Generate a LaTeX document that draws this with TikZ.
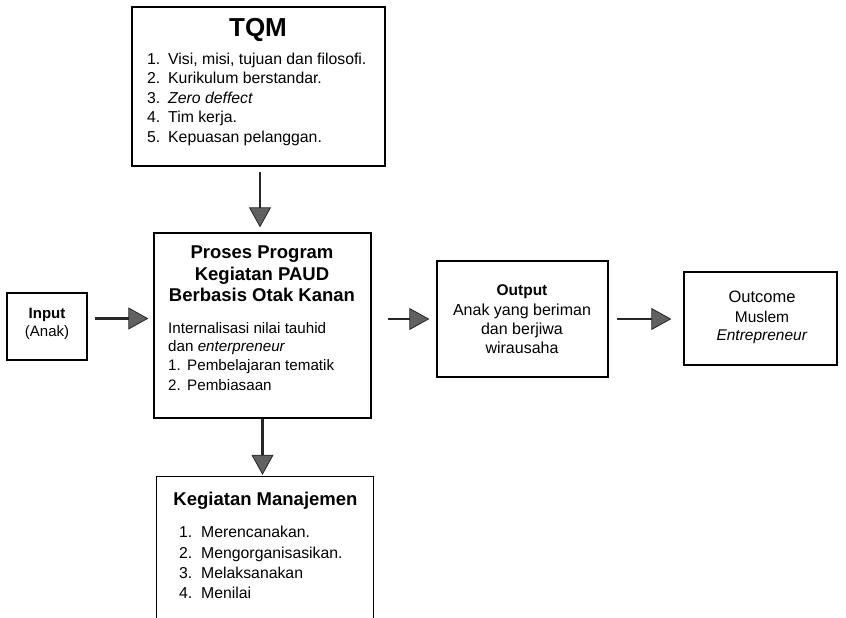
\documentclass[tikz,border=0pt]{standalone}
\usepackage{fontspec}
\setmainfont{Liberation Sans}
\usetikzlibrary{arrows.meta}
\begin{document}
\begin{tikzpicture}[x=1pt,y=-1pt,
  box/.style={draw=black, line width=1.3pt, inner sep=0pt, minimum width=#1},
  arr/.style={draw=black!85, line width=2.6pt,
    -{Triangle[width=22pt,length=20pt,fill=black!62,line width=0.8pt]}},
  txt/.style={inner sep=0pt, anchor=base west, font=\fontsize{15.8}{19}\selectfont},
  ctxt/.style={inner sep=0pt, anchor=base, font=\fontsize{15.5}{19}\selectfont},
  ttl/.style={inner sep=0pt, anchor=base, font=\fontsize{18.5}{22}\selectfont\bfseries}
]
\useasboundingbox (0,0) rectangle (846,618);
\fill[white] (0,0) rectangle (846,618);

% boxes
\node[box=253pt, minimum height=159pt] (tqm) at (258.5,86.5) {};
\node[box=217pt, minimum height=185pt] (proses) at (262.5,325.5) {};
\node[box=80pt, minimum height=67pt] (input) at (47,326.5) {};
\node[box=171pt, minimum height=116pt] (output) at (522.5,319) {};
\node[box=153pt, minimum height=93pt] (outcome) at (760.5,318.5) {};
\node[inner sep=0pt, minimum width=216pt, minimum height=141pt] (km) at (265,547.5) {};
\draw[line width=1.3pt] (km.south west) -- (km.north west) -- (km.north east) -- (km.south east);

% TQM text
\node[inner sep=0pt, anchor=base, font=\fontsize{26}{30}\selectfont\bfseries] (tqmt) at (258,37) {TQM};
\node[txt] (t1) at (147,64) {\makebox[21pt][l]{1.}Visi, misi, tujuan dan filosofi.};
\node[txt] (t2) at (147,83.5) {\makebox[21pt][l]{2.}Kurikulum berstandar.};
\node[txt] (t3) at (147,103) {\makebox[21pt][l]{3.}\textit{Zero deffect}};
\node[txt] (t4) at (147,122.5) {\makebox[21pt][l]{4.}Tim kerja.};
\node[txt] (t5) at (147,142) {\makebox[21pt][l]{5.}Kepuasan pelanggan.};

% Proses text
\node[ttl] (p1) at (262,258) {Proses Program};
\node[ttl] (p2) at (262,280) {Kegiatan PAUD};
\node[ttl] (p3) at (262,301) {Berbasis Otak Kanan};
\node[txt, font=\fontsize{15.2}{19}\selectfont] (p4) at (168,333) {Internalisasi nilai tauhid};
\node[txt, font=\fontsize{15.2}{19}\selectfont] (p5) at (168,351) {dan \textit{enterpreneur}};
\node[txt, font=\fontsize{15.2}{19}\selectfont] (p6) at (168,370) {\makebox[19pt][l]{1.}Pembelajaran tematik};
\node[txt, font=\fontsize{15.2}{19}\selectfont] (p7) at (168,390) {\makebox[19pt][l]{2.}Pembiasaan};

% Input text
\node[ctxt, font=\fontsize{15}{19}\selectfont\bfseries] (i1) at (47,318) {Input};
\node[ctxt, font=\fontsize{15}{19}\selectfont] (i2) at (47,336) {(Anak)};

% Output text
\node[ctxt, font=\fontsize{15.5}{19}\selectfont\bfseries] (o1) at (522,295) {Output};
\node[ctxt, font=\fontsize{16}{19}\selectfont] (o2) at (522,315) {Anak yang beriman};
\node[ctxt, font=\fontsize{16}{19}\selectfont] (o3) at (522,334) {dan berjiwa};
\node[ctxt, font=\fontsize{16}{19}\selectfont] (o4) at (522,353) {wirausaha};

% Outcome text
\node[ctxt, font=\fontsize{16.5}{19}\selectfont] (c1) at (762,302) {Outcome};
\node[ctxt, font=\fontsize{15.5}{19}\selectfont] (c2) at (762,322) {Muslem};
\node[ctxt, font=\fontsize{15.5}{19}\selectfont] (c3) at (762,340) {\textit{Entrepreneur}};

% Kegiatan Manajemen text
\node[ttl] (k0) at (265.5,505) {Kegiatan Manajemen};
\node[txt] (k1) at (179,537) {\makebox[22pt][l]{1.}Merencanakan.};
\node[txt] (k2) at (179,558) {\makebox[22pt][l]{2.}Mengorganisasikan.};
\node[txt] (k3) at (179,578) {\makebox[22pt][l]{3.}Melaksanakan};
\node[txt] (k4) at (179,598) {\makebox[22pt][l]{4.}Menilai};

% arrows
\draw[arr, shorten <=5pt, shorten >=5pt] ([xshift=1.5pt]tqm.south) -- ([xshift=1.5pt]tqm.south |- proses.north);
\draw[arr, shorten >=2pt] (proses.south) -- (proses.south |- km.north);
\draw[arr, shorten <=7pt, shorten >=5pt] ([yshift=8pt]input.east) -- ([yshift=8pt]input.east -| proses.west);
\draw[arr, shorten <=16pt, shorten >=7pt] (proses.east |- output.west) -- (output.west);
\draw[arr, shorten <=8pt, shorten >=12pt] (output.east) -- (output.east -| outcome.west);
\end{tikzpicture}
\end{document}
